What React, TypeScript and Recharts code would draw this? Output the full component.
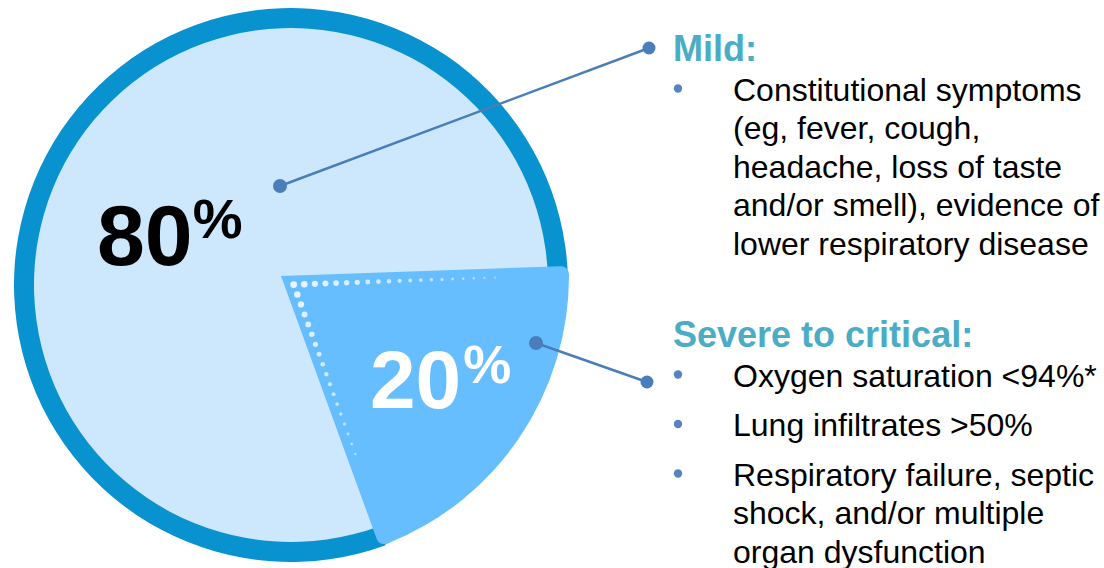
import { Cell, Pie, PieChart } from "recharts";

// share of cases by disease severity
const SEVERITY = ["Mild", "Severe to critical"];
const SHARE = [80, 20];

// bullet points beside each group, one array of wrapped lines per bullet
const MILD_POINTS = [
  [
    "Constitutional symptoms",
    "(eg, fever, cough,",
    "headache, loss of taste",
    "and/or smell), evidence of",
    "lower respiratory disease",
  ],
];
const SEVERE_POINTS = [
  ["Oxygen saturation <94%*"],
  ["Lung infiltrates >50%"],
  ["Respiratory failure, septic", "shock, and/or multiple", "organ dysfunction"],
];

const data = SEVERITY.map((name, i) => ({ name, value: SHARE[i] }));

const W = 1104;
const H = 568;
const FONT = "'Liberation Sans', Arial, Helvetica, sans-serif";
const RING = "#0992D0";
const DISC = "#CDE8FC";
const WEDGE = "#66BEFE";
const LEADER = "#4A7EBB";
const HEADING = "#4BACC6";
const BULLET = "#5584C0";

// clockwise from here: mild first, severe wedge starts just above 3 o'clock
const START_ANGLE = 290;
const RAD = Math.PI / 180;

const unit = (angle: number) => ({ x: Math.cos(-angle * RAD), y: Math.sin(-angle * RAD) });

// where each group's percentage and callout sit, relative to the wedge pie centre
const CALLOUTS = [
  { tx: -184, ty: -11, size: 86, sup: 56, gap: 0, rise: 27, color: "#000", dx: -1, dy: -90, end: { x: 649, y: 48 } },
  { tx: 89, ty: 132, size: 82, sup: 54, gap: 2, rise: 25, color: "#fff", dx: 255, dy: 67, end: { x: 647, y: 382 } },
];

// dotted trim running inside the two straight edges of the wedge
function wedgeDots(cx: number, cy: number, a0: number, a1: number) {
  const inset = 9;
  const step = 10.6;
  const half = (Math.abs(a0 - a1) / 2) * RAD;
  const d0 = inset / Math.tan(half);
  const edges = [
    { a: a0, n: unit(a0 - 90), count: 20, from: 0 },
    { a: a1, n: unit(a1 + 90), count: 18, from: 1 },
  ];
  const dots: JSX.Element[] = [];
  edges.forEach((e, ei) => {
    const u = unit(e.a);
    for (let k = e.from; k < e.count; k++) {
      const d = d0 + k * step;
      dots.push(
        <circle
          key={`${ei}-${k}`}
          cx={cx + u.x * d + e.n.x * inset}
          cy={cy + u.y * d + e.n.y * inset}
          r={Math.max(0.8, 3.4 - k * 0.13)}
          fill="#fff"
          fillOpacity={0.85 - k * 0.02}
        />
      );
    }
  });
  return dots;
}

function renderCallout(props: any) {
  const { cx, cy, index, value, startAngle, endAngle } = props;
  const c = CALLOUTS[index];
  const dot = { x: cx + c.dx, y: cy + c.dy };
  return (
    <g key={`callout-${index}`}>
      {index === 1 && wedgeDots(cx, cy, startAngle, endAngle)}
      <text x={cx + c.tx} y={cy + c.ty} fill={c.color} fontFamily={FONT} fontWeight="bold">
        <tspan fontSize={c.size}>{value}</tspan>
        <tspan fontSize={c.sup} dx={c.gap} dy={-c.rise}>
          %
        </tspan>
      </text>
      <line x1={dot.x} y1={dot.y} x2={c.end.x} y2={c.end.y} stroke={LEADER} strokeWidth={2.5} />
      <circle cx={dot.x} cy={dot.y} r={7} fill={LEADER} />
      <circle cx={c.end.x} cy={c.end.y} r={6.5} fill={LEADER} />
    </g>
  );
}

function NoteBlock({ x, y, title, points }: { x: number; y: number; title: string; points: string[][] }) {
  const lineGap = 38.5;
  const paraGap = 11;
  let base = y + 39.5;
  const rows: JSX.Element[] = [];
  points.forEach((lines, pi) => {
    rows.push(<circle key={`b${pi}`} cx={x + 5} cy={base - 12} r={4.2} fill={BULLET} />);
    lines.forEach((line, li) => {
      rows.push(
        <text key={`t${pi}-${li}`} x={x + 60} y={base} fontSize={32} fill="#000">
          {line}
        </text>
      );
      base += lineGap;
    });
    base += paraGap;
  });
  return (
    <g fontFamily={FONT}>
      <text x={x} y={y} fontSize={36} fontWeight="bold" fill={HEADING}>
        {title}:
      </text>
      {rows}
    </g>
  );
}

export default function App() {
  return (
    <div style={{ position: "absolute", left: 0, top: 0, width: W, height: H, background: "#fff" }}>
      <PieChart width={W} height={H} margin={{ top: 0, right: 0, bottom: 0, left: 0 }}>
        {/* outer ring, only around the mild share; the wedge takes its place */}
        <Pie
          data={data}
          dataKey="value"
          cx={291}
          cy={285}
          innerRadius={256}
          outerRadius={277}
          startAngle={START_ANGLE}
          endAngle={START_ANGLE - 360}
          stroke="none"
          isAnimationActive={false}
        >
          {data.map((d, i) => (
            <Cell key={d.name} fill={i === 0 ? RING : "transparent"} />
          ))}
        </Pie>
        {/* pale disc */}
        <Pie
          data={data}
          dataKey="value"
          cx={291}
          cy={285}
          outerRadius={257}
          startAngle={START_ANGLE}
          endAngle={START_ANGLE - 360}
          stroke="none"
          isAnimationActive={false}
        >
          {data.map((d) => (
            <Cell key={d.name} fill={DISC} />
          ))}
        </Pie>
        {/* severe wedge, nudged out of the disc */}
        <Pie
          data={data}
          dataKey="value"
          cx={281}
          cy={276}
          outerRadius={288}
          cornerRadius={8}
          startAngle={START_ANGLE}
          endAngle={START_ANGLE - 360}
          stroke="none"
          label={renderCallout}
          labelLine={false}
          isAnimationActive={false}
        >
          {data.map((d, i) => (
            <Cell key={d.name} fill={i === 1 ? WEDGE : "transparent"} />
          ))}
        </Pie>
      </PieChart>
      <svg width={W} height={H} style={{ position: "absolute", left: 0, top: 0, pointerEvents: "none" }}>
        <NoteBlock x={673} y={61} title={SEVERITY[0]} points={MILD_POINTS} />
        <NoteBlock x={673} y={347} title={SEVERITY[1]} points={SEVERE_POINTS} />
      </svg>
    </div>
  );
}
